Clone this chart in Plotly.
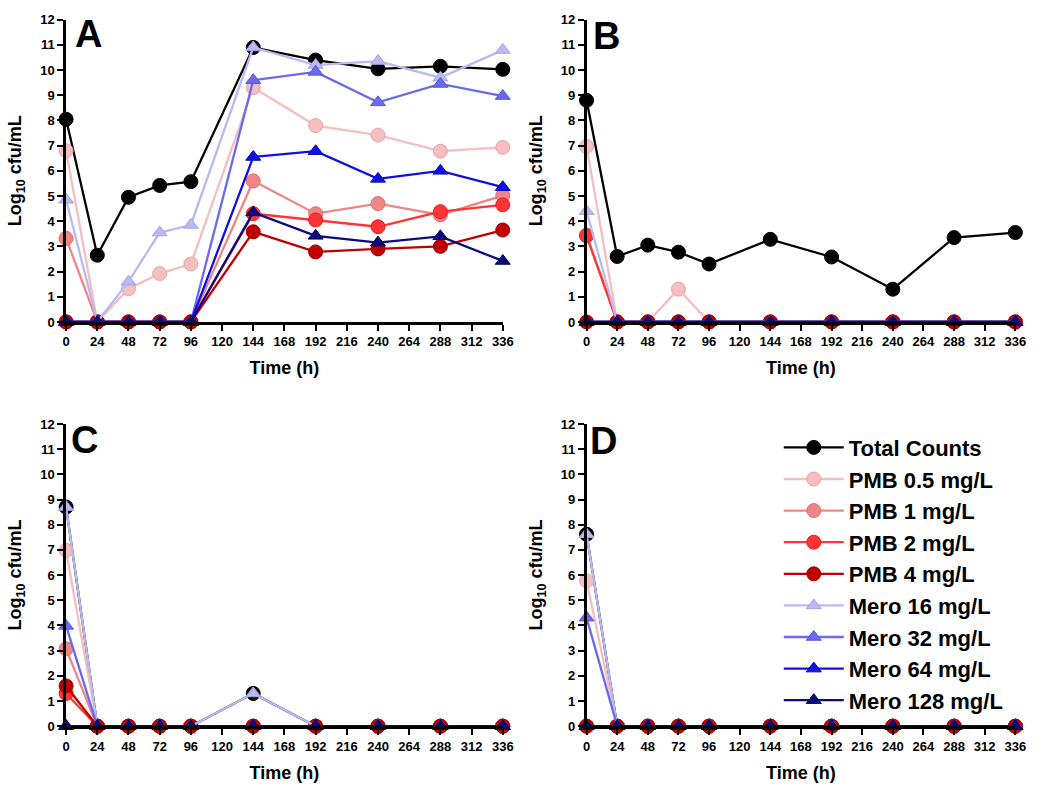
import plotly.graph_objects as go

# ---------------- data ----------------
time_h = [0, 24, 48, 72, 96, 144, 192, 240, 288, 336]
x_ticks = list(range(0, 337, 24))
y_ticks = list(range(0, 13))

series_names = ["Total Counts", "PMB 0.5 mg/L", "PMB 1 mg/L", "PMB 2 mg/L", "PMB 4 mg/L",
                "Mero 16 mg/L", "Mero 32 mg/L", "Mero 64 mg/L", "Mero 128 mg/L"]

# Panel A
A_total  = [8.05, 2.65, 4.95, 5.42, 5.57, 10.90, 10.40, 10.05, 10.15, 10.03]
A_pmb05  = [6.80, 0, 1.32, 1.92, 2.30, 9.30, 7.80, 7.42, 6.78, 6.93]
A_pmb1   = [3.32, 0, 0, 0, 0, 5.60, 4.30, 4.70, 4.25, 5.02]
A_pmb2   = [0, 0, 0, 0, 0, 4.30, 4.05, 3.78, 4.38, 4.65]
A_pmb4   = [0, 0, 0, 0, 0, 3.58, 2.78, 2.90, 3.00, 3.65]
A_mero16 = [4.85, 0, 1.60, 3.55, 3.85, 10.90, 10.20, 10.36, 9.70, 10.80]
A_mero32 = [0, 0, 0, 0, 0, 9.60, 9.93, 8.72, 9.45, 8.97]
A_mero64 = [0, 0, 0, 0, 0, 6.55, 6.78, 5.68, 6.00, 5.35]
A_mero128 = [0, 0, 0, 0, 0, 4.35, 3.42, 3.15, 3.40, 2.42]

# Panel B
B_total  = [8.80, 2.60, 3.05, 2.77, 2.30, 3.28, 2.58, 1.30, 3.35, 3.55]
B_pmb05  = [6.97, 0, 0, 1.30, 0, 0, 0, 0, 0, 0]
B_pmb1   = [3.45, 0, 0, 0, 0, 0, 0, 0, 0, 0]
B_pmb2   = [3.42, 0, 0, 0, 0, 0, 0, 0, 0, 0]
B_pmb4   = [0, 0, 0, 0, 0, 0, 0, 0, 0, 0]
B_mero16 = [4.40, 0, 0, 0, 0, 0, 0, 0, 0, 0]
B_mero32 = [0, 0, 0, 0, 0, 0, 0, 0, 0, 0]
B_mero64 = [0, 0, 0, 0, 0, 0, 0, 0, 0, 0]
B_mero128 = [0, 0, 0, 0, 0, 0, 0, 0, 0, 0]

# Panel C
C_total  = [8.70, 0, 0, 0, 0, 1.30, 0, 0, 0, 0]
C_pmb05  = [6.98, 0, 0, 0, 0, 0, 0, 0, 0, 0]
C_pmb1   = [3.07, 0, 0, 0, 0, 0, 0, 0, 0, 0]
C_pmb2   = [1.30, 0, 0, 0, 0, 0, 0, 0, 0, 0]
C_pmb4   = [1.60, 0, 0, 0, 0, 0, 0, 0, 0, 0]
C_mero16 = [8.70, 0, 0, 0, 0, 1.30, 0, 0, 0, 0]
C_mero32 = [3.98, 0, 0, 0, 0, 0, 0, 0, 0, 0]
C_mero64 = [0, 0, 0, 0, 0, 0, 0, 0, 0, 0]
C_mero128 = [0, 0, 0, 0, 0, 0, 0, 0, 0, 0]

# Panel D
D_total  = [7.62, 0, 0, 0, 0, 0, 0, 0, 0, 0]
D_pmb05  = [5.77, 0, 0, 0, 0, 0, 0, 0, 0, 0]
D_pmb1   = [0, 0, 0, 0, 0, 0, 0, 0, 0, 0]
D_pmb2   = [0, 0, 0, 0, 0, 0, 0, 0, 0, 0]
D_pmb4   = [0, 0, 0, 0, 0, 0, 0, 0, 0, 0]
D_mero16 = [7.62, 0, 0, 0, 0, 0, 0, 0, 0, 0]
D_mero32 = [4.31, 0, 0, 0, 0, 0, 0, 0, 0, 0]
D_mero64 = [0, 0, 0, 0, 0, 0, 0, 0, 0, 0]
D_mero128 = [0, 0, 0, 0, 0, 0, 0, 0, 0, 0]

panel_labels = ["A", "B", "C", "D"]

# ---------------- styles ----------------
colors = ["#000000", "#F5BEBF", "#EF8585", "#FF3434", "#C00000",
          "#B9B9F4", "#6A6AEE", "#1010E0", "#0A0A80"]
edge_colors = ["#000000", "#E8A6A8", "#E06E6E", "#E81E1E", "#A00000",
               "#A5A5E6", "#5656DC", "#0808C0", "#050560"]
symbols = ["circle"] * 5 + ["triangle-up"] * 4
sizes = [14, 14, 14, 14, 14, 13, 13, 13, 13]

panels = [
    [A_total, A_pmb05, A_pmb1, A_pmb2, A_pmb4, A_mero16, A_mero32, A_mero64, A_mero128],
    [B_total, B_pmb05, B_pmb1, B_pmb2, B_pmb4, B_mero16, B_mero32, B_mero64, B_mero128],
    [C_total, C_pmb05, C_pmb1, C_pmb2, C_pmb4, C_mero16, C_mero32, C_mero64, C_mero128],
    [D_total, D_pmb05, D_pmb1, D_pmb2, D_pmb4, D_mero16, D_mero32, D_mero64, D_mero128],
]

W, H = 1050, 795
# plot-area pixel boxes: (x0, x1, ytop, ybottom)
boxes = [(63, 506, 13, 321), (591, 1026, 13, 321), (63, 506, 425, 733), (591, 1026, 425, 733)]

fig = go.Figure()
FONT = "Liberation Sans, Arial, sans-serif"

for p, data in enumerate(panels):
    ax = "" if p == 0 else str(p + 1)
    for i, vals in enumerate(data):
        fig.add_trace(go.Scatter(
            x=time_h, y=vals, name=series_names[i], mode="lines+markers",
            xaxis="x" + ax, yaxis="y" + ax,
            line=dict(color=colors[i], width=2.3),
            marker=dict(symbol=symbols[i], size=sizes[i], color=colors[i],
                        line=dict(color=edge_colors[i], width=1)),
            cliponaxis=False,
            showlegend=(p == 3),
        ))

layout = dict(
    width=W, height=H,
    margin=dict(l=0, r=0, t=0, b=0),
    paper_bgcolor="white", plot_bgcolor="white",
    font=dict(family=FONT, color="black"),
    showlegend=True,
    legend=dict(
        x=786 / W, y=1 - 578 / H, xanchor="left", yanchor="middle",
        font=dict(family=FONT, size=22, color="black", weight="bold"),
        bgcolor="rgba(0,0,0,0)", borderwidth=0, itemwidth=60,
        tracegroupgap=0,
    ),
    annotations=[],
)

letter_pos = [(86, 28), (611, 30), (82, 441), (608, 442)]

for p, (x0, x1, yt, yb) in enumerate(boxes):
    ax = "" if p == 0 else str(p + 1)
    layout["xaxis" + ax] = dict(
        domain=[x0 / W, x1 / W], anchor="y" + ax, range=[0, 336],
        tickmode="array", tickvals=x_ticks, ticktext=[str(t) for t in x_ticks],
        ticks="outside", ticklen=6, tickwidth=2, tickcolor="black",
        showline=True, linecolor="black", linewidth=2.5,
        showgrid=False, zeroline=False,
        tickfont=dict(family=FONT, size=13, color="black", weight="bold"),
        title=dict(text="Time (h)", font=dict(family=FONT, size=18, color="black", weight="bold"),
                   standoff=14),
    )
    layout["yaxis" + ax] = dict(
        domain=[1 - yb / H, 1 - yt / H], anchor="x" + ax, range=[0, 12],
        tickmode="array", tickvals=y_ticks, ticktext=[str(t) for t in y_ticks],
        ticks="outside", ticklen=6, tickwidth=2, tickcolor="black",
        showline=True, linecolor="black", linewidth=2.5,
        showgrid=False, zeroline=False,
        tickfont=dict(family=FONT, size=13, color="black", weight="bold"),
        title=dict(text="Log<sub>10</sub> cfu/mL",
                   font=dict(family=FONT, size=18, color="black", weight="bold"),
                   standoff=14),
    )
    lx, ly = letter_pos[p]
    layout["annotations"].append(dict(
        text=panel_labels[p], xref="paper", yref="paper",
        x=lx / W, y=1 - ly / H, xanchor="center", yanchor="middle",
        showarrow=False, font=dict(family=FONT, size=38, color="black", weight="bold"),
    ))

fig.update_layout(**layout)
fig.write_html("out.html", config={"displayModeBar": False},
               post_script="document.body.style.margin='0';")
